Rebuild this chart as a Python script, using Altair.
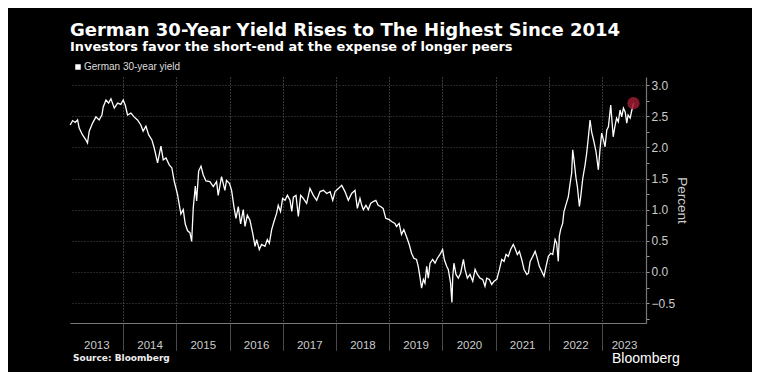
import altair as alt
import pandas as pd

TITLE = "German 30-Year Yield Rises to The Highest Since 2014"
SUBTITLE = "Investors favor the short-end at the expense of longer peers"
SERIES = "German 30-year yield"
SOURCE = "Source: Bloomberg"
BRAND = "Bloomberg"

DATES = [
    "2013-01-02", "2013-01-19", "2013-02-06", "2013-02-22", "2013-03-05", "2013-03-28",
    "2013-04-20", "2013-05-01", "2013-05-13", "2013-06-05", "2013-06-28", "2013-07-20",
    "2013-08-08", "2013-08-17", "2013-09-05", "2013-09-23", "2013-10-09", "2013-11-01",
    "2013-11-24", "2013-12-16", "2014-01-01", "2014-01-15", "2014-01-31", "2014-02-23",
    "2014-03-17", "2014-04-09", "2014-05-02", "2014-05-18", "2014-06-06", "2014-06-25",
    "2014-07-17", "2014-08-02", "2014-08-25", "2014-09-17", "2014-10-03", "2014-10-22",
    "2014-11-13", "2014-12-01", "2014-12-17", "2015-01-09", "2015-02-01", "2015-02-17",
    "2015-03-03", "2015-03-19", "2015-04-04", "2015-04-16", "2015-04-27", "2015-05-11",
    "2015-05-20", "2015-06-03", "2015-06-19", "2015-07-04", "2015-07-23", "2015-08-19",
    "2015-09-11", "2015-10-04", "2015-10-15", "2015-11-07", "2015-11-30", "2015-12-11",
    "2016-01-01", "2016-01-15", "2016-01-31", "2016-02-14", "2016-03-01", "2016-03-17",
    "2016-04-04", "2016-04-16", "2016-05-02", "2016-05-20", "2016-06-08", "2016-06-24",
    "2016-07-05", "2016-07-23", "2016-08-08", "2016-08-31", "2016-09-16", "2016-09-30",
    "2016-10-16", "2016-11-01", "2016-11-19", "2016-11-30", "2016-12-16", "2016-12-30",
    "2017-01-16", "2017-02-01", "2017-02-19", "2017-03-03", "2017-03-14", "2017-04-01",
    "2017-04-17", "2017-05-03", "2017-05-21", "2017-06-13", "2017-07-06", "2017-07-29",
    "2017-08-21", "2017-09-13", "2017-10-06", "2017-10-29", "2017-11-21", "2017-12-09",
    "2017-12-25", "2018-01-17", "2018-02-09", "2018-03-03", "2018-03-26", "2018-04-18",
    "2018-05-11", "2018-05-27", "2018-06-14", "2018-06-26", "2018-07-07", "2018-07-25",
    "2018-08-10", "2018-08-26", "2018-09-13", "2018-10-01", "2018-10-17", "2018-11-02",
    "2018-11-20", "2018-12-08", "2019-01-01", "2019-01-17", "2019-02-09", "2019-02-20",
    "2019-03-10", "2019-03-26", "2019-04-11", "2019-04-29", "2019-05-18", "2019-06-03",
    "2019-06-19", "2019-07-07", "2019-07-19", "2019-07-30", "2019-08-11", "2019-08-23",
    "2019-09-03", "2019-09-15", "2019-09-26", "2019-10-08", "2019-10-26", "2019-11-11",
    "2019-11-27", "2019-12-15", "2020-01-02", "2020-01-14", "2020-01-30", "2020-02-10",
    "2020-02-26", "2020-03-06", "2020-03-12", "2020-03-20", "2020-04-03", "2020-04-19",
    "2020-05-05", "2020-05-24", "2020-06-04", "2020-06-20", "2020-07-08", "2020-07-27",
    "2020-08-12", "2020-08-28", "2020-09-15", "2020-10-03", "2020-10-19", "2020-10-31",
    "2020-11-18", "2020-12-04", "2020-12-20", "2021-01-08", "2021-01-26", "2021-02-11",
    "2021-02-27", "2021-03-12", "2021-03-28", "2021-04-13", "2021-05-01", "2021-05-13",
    "2021-05-29", "2021-06-12", "2021-06-28", "2021-07-14", "2021-08-02", "2021-08-13",
    "2021-08-25", "2021-09-12", "2021-09-28", "2021-10-09", "2021-10-27", "2021-11-12",
    "2021-11-28", "2021-12-12", "2021-12-28", "2022-01-13", "2022-01-27", "2022-02-12",
    "2022-02-23", "2022-03-06", "2022-03-13", "2022-03-22", "2022-04-05", "2022-04-14",
    "2022-04-28", "2022-05-14", "2022-05-26", "2022-06-06", "2022-06-13", "2022-06-22",
    "2022-07-06", "2022-07-15", "2022-07-29", "2022-08-07", "2022-08-21", "2022-09-06",
    "2022-09-17", "2022-09-28", "2022-10-10", "2022-10-21", "2022-11-06", "2022-11-20",
    "2022-12-06", "2022-12-17", "2022-12-29", "2023-01-10", "2023-01-21", "2023-02-02",
    "2023-02-13", "2023-03-01", "2023-03-09", "2023-03-18", "2023-03-29", "2023-04-10",
    "2023-04-22", "2023-05-04", "2023-05-15", "2023-05-27", "2023-06-08", "2023-06-19",
    "2023-06-28", "2023-07-12", "2023-07-24", "2023-08-04",
]

YIELDS = [
    2.36, 2.43, 2.40, 2.44, 2.31, 2.20,
    2.12, 2.07, 2.26, 2.39, 2.49, 2.44,
    2.52, 2.65, 2.76, 2.71, 2.78, 2.63,
    2.71, 2.69, 2.76, 2.68, 2.52, 2.55,
    2.49, 2.44, 2.36, 2.26, 2.34, 2.20,
    2.12, 1.99, 1.75, 2.02, 1.80, 1.83,
    1.72, 1.67, 1.46, 1.24, 0.93, 1.00,
    0.77, 0.66, 0.63, 0.49, 1.03, 1.38,
    1.14, 1.62, 1.70, 1.56, 1.46, 1.45,
    1.37, 1.45, 1.23, 1.53, 1.31, 1.47,
    1.42, 1.31, 1.05, 0.86, 1.05, 0.77,
    1.00, 0.73, 0.91, 0.83, 0.62, 0.41,
    0.52, 0.36, 0.44, 0.41, 0.52, 0.46,
    0.68, 0.81, 0.94, 1.07, 0.97, 1.18,
    1.15, 1.23, 1.15, 0.97, 1.20, 1.23,
    0.89, 1.23, 1.18, 1.10, 1.34, 1.23,
    1.15, 1.29, 1.31, 1.26, 1.29, 1.15,
    1.29, 1.34, 1.39, 1.29, 1.15, 1.26,
    1.31, 1.02, 1.18, 1.07, 1.00, 1.07,
    1.00, 1.10, 1.13, 1.15, 1.07, 1.05,
    1.02, 0.86, 0.84, 0.81, 0.78, 0.73,
    0.78, 0.60, 0.68, 0.57, 0.44, 0.30,
    0.22, 0.20, 0.09, -0.07, -0.26, -0.12,
    -0.18, 0.09, -0.10, 0.14, 0.20, 0.14,
    0.22, 0.28, 0.36, 0.20, 0.09, 0.04,
    -0.18, -0.49, -0.07, 0.14, -0.04, -0.10,
    -0.02, 0.20, 0.04, -0.10, -0.04, -0.15,
    0.04, -0.04, -0.10, -0.12, -0.23, -0.10,
    -0.12, -0.20, -0.15, -0.12, 0.04, 0.20,
    0.17, 0.28, 0.25, 0.36, 0.44, 0.38,
    0.28, 0.33, 0.20, 0.04, -0.04, -0.02,
    0.17, 0.25, 0.33, 0.25, 0.09, 0.01,
    -0.07, 0.09, 0.25, 0.30, 0.28, 0.52,
    0.46, 0.17, 0.57, 0.68, 0.78, 0.97,
    1.08, 1.21, 1.42, 1.59, 1.96, 1.80,
    1.50, 1.37, 1.05, 1.21, 1.50, 1.72,
    1.91, 2.15, 2.44, 2.25, 2.09, 1.93,
    1.64, 1.96, 2.23, 2.12, 2.01, 2.28,
    2.33, 2.68, 2.44, 2.17, 2.33, 2.47,
    2.41, 2.60, 2.49, 2.63, 2.57, 2.39,
    2.52, 2.47, 2.60, 2.71,
]

X_DOMAIN = ["2013-01-01", "2023-10-29"]
Y_DOMAIN = [-0.82, 3.13]
GRID_YEARS = [2014, 2015, 2016, 2017, 2018, 2019, 2020, 2021, 2022, 2023]
LABEL_DATES = [
    (2013, 7, 1), (2014, 7, 1), (2015, 7, 1), (2016, 7, 1), (2017, 7, 1), (2018, 7, 1),
    (2019, 7, 1), (2020, 7, 1), (2021, 7, 1), (2022, 7, 1), (2023, 5, 31),
]
Y_TICKS = [-0.75, -0.5, -0.25, 0.0, 0.25, 0.5, 0.75, 1.0, 1.25, 1.5, 1.75,
           2.0, 2.25, 2.5, 2.75, 3.0]

df = pd.DataFrame({"date": DATES, "value": YIELDS, "series": [SERIES] * len(DATES)})
last = df.tail(1)
labels_df = pd.DataFrame({"pos": ["%04d-%02d-%02d" % d for d in LABEL_DATES]})

LABEL_FONT = "Liberation Sans Narrow, Liberation Sans, Arial"
GRID = "#4a4a4a"

x_scale = alt.Scale(domain=X_DOMAIN, nice=False)
x_enc = alt.X(
    "date:T",
    scale=x_scale,
    title=None,
    axis=alt.Axis(
        orient="bottom",
        values=[alt.DateTime(year=y, month=1, date=1, utc=True) for y in GRID_YEARS],
        labels=False,
        tickSize=27,
        tickColor=GRID,
        tickWidth=1,
        grid=True,
        gridColor=GRID,
        gridDash=[1, 2],
        gridWidth=1,
        domainColor="#777777",
        domainWidth=1.2,
    ),
)
y_enc = alt.Y(
    "value:Q",
    scale=alt.Scale(domain=Y_DOMAIN, nice=False, zero=False),
    title="Percent",
    axis=alt.Axis(
        orient="right",
        values=Y_TICKS,
        labelExpr="datum.value % 0.5 === 0 ? format(datum.value, '.1f') : ''",
        tickSize=3,
        tickColor="#999999",
        labelPadding=2,
        labelFont=LABEL_FONT,
        labelFontSize=12,
        labelColor="#cccccc",
        grid=True,
        gridColor=GRID,
        gridDash=[1, 2],
        gridOpacity={"condition": {"test": "datum.value % 0.5 === 0", "value": 1}, "value": 0},
        domainColor="#777777",
        domainWidth=1.2,
        title="Percent",
        titleFont=LABEL_FONT,
        titleFontSize=13.5,
        titleFontWeight="normal",
        titleColor="#cccccc",
        titleAngle=90,
        titlePadding=0,
        labelFlush=False,
        labelOverlap=False,
    ),
)

line = alt.Chart(df).mark_line(strokeWidth=1.3, interpolate="linear").encode(
    x=x_enc,
    y=y_enc,
    color=alt.Color(
        "series:N",
        scale=alt.Scale(domain=[SERIES], range=["#ffffff"]),
        legend=alt.Legend(
            orient="none",
            legendX=3,
            legendY=-15,
            title=None,
            symbolType="square",
            symbolSize=30,
            symbolFillColor="#ffffff",
            symbolStrokeWidth=0,
            labelFont=LABEL_FONT,
            labelFontSize=10,
            labelColor="#dddddd",
            labelOffset=1,
        ),
    ),
)

year_labels = alt.Chart(labels_df).mark_point(opacity=0).encode(
    x=alt.X(
        "pos:T",
        scale=x_scale,
        title=None,
        axis=alt.Axis(
            orient="bottom",
            values=[alt.DateTime(year=a, month=m, date=d, utc=True) for (a, m, d) in LABEL_DATES],
            labelExpr="utcFormat(datum.value, '%Y')",
            ticks=False,
            grid=False,
            domain=False,
            labelPadding=16,
            labelFont=LABEL_FONT,
            labelFontSize=11.5,
            labelColor="#cccccc",
            labelFlush=False,
            labelOverlap=False,
        ),
    ),
)

dot = alt.Chart(last).mark_circle(size=150, color="#9b1b30", opacity=0.85).encode(
    x=x_enc, y=y_enc
)

source = alt.Chart(pd.DataFrame({"t": [SOURCE]})).mark_text(
    align="left", baseline="alphabetic", font="DejaVu Sans", fontSize=9,
    fontWeight="bold", color="#eeeeee"
).encode(text="t:N", x=alt.value(3), y=alt.value(284))

brand = alt.Chart(pd.DataFrame({"t": [BRAND]})).mark_text(
    align="left", baseline="alphabetic", font=LABEL_FONT, fontSize=14,
    color="#ffffff"
).encode(text="t:N", x=alt.value(542), y=alt.value(286))

chart = alt.layer(line, dot, year_labels, source, brand).resolve_axis(
    x="independent"
).properties(
    width=576,
    height=246,
    autosize=alt.AutoSizeParams(type="none"),
    padding={"left": 62, "top": 69, "right": 106, "bottom": 49},
    background="#000000",
    title=alt.TitleParams(
        text=TITLE,
        subtitle=SUBTITLE,
        anchor="start",
        frame="group",
        font="DejaVu Sans",
        fontSize=18,
        fontWeight="bold",
        color="#ffffff",
        subtitleFont="DejaVu Sans",
        subtitleFontSize=12.9,
        subtitleFontWeight="bold",
        subtitleColor="#ffffff",
        subtitlePadding=1,
        offset=8,
    ),
).configure_view(stroke=None)

chart.save("out.html", embed_options={"renderer": "svg", "actions": False})
